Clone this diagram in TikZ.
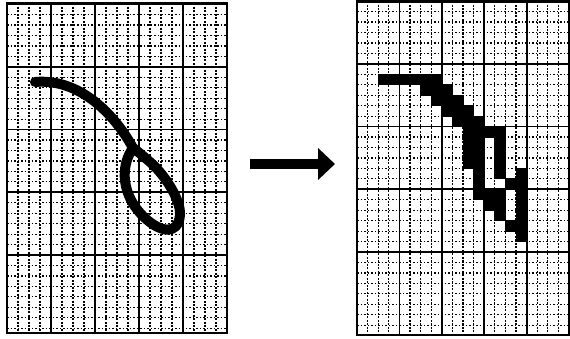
\documentclass[tikz,border=0pt]{standalone}
\usetikzlibrary{arrows.meta}
\begin{document}
\begin{tikzpicture}[x=1pt,y=-1pt,
  minorline/.style={line width=1.2pt, dash pattern=on 1.8pt off 1.7pt},
  majorline/.style={line width=1.8pt},
  frameline/.style={line width=2.4pt},
  inkstroke/.style={line width=10pt, line cap=round, line join=round},
  arrowshaft/.style={line width=10pt, -{Triangle[length=17pt,width=31pt]}}]
\useasboundingbox (0,0) rectangle (570,339);

% ---------- left sheet: 20 columns of 11, rows of 10.45 ----------
\foreach \i in {1,...,19} {
  \pgfmathsetmacro\xx{7+11*\i}
  \pgfmathtruncatemacro\m{mod(\i,4)}
  \ifnum\m=0 \draw[majorline] (\xx,3.5) -- (\xx,333);
  \else \draw[minorline] (\xx,3.5) -- (\xx,333); \fi
}
\foreach \k in {1,...,31} {
  \pgfmathsetmacro\yy{4.2+10.45*\k}
  \pgfmathtruncatemacro\m{mod(\k,6)}
  \pgfmathtruncatemacro\big{(\m==0)&&(\k<30)}
  \ifnum\big=1 \draw[majorline] (7,\yy) -- (227,\yy);
  \else \draw[minorline] (7,\yy) -- (227,\yy); \fi
}
\draw[frameline] (7,3.5) rectangle (227,333);

% handwritten stroke: entry tail and loop
\draw[inkstroke] (35,82) .. controls (80,78) and (115,115) .. (133,148);
\draw[inkstroke] (133,148) .. controls (120,166) and (121,196) .. (145,218)
  .. controls (160,232) and (178,236) .. (180,215)
  .. controls (181,200) and (165,175) .. (150,162)
  .. controls (142,155) and (136,150) .. (133,148) -- cycle;

% ---------- arrow ----------
\coordinate (arrowtail) at (250,164);
\coordinate (arrowtip) at (335,164);
\draw[arrowshaft] (arrowtail) -- (arrowtip);

% ---------- right sheet: 20 columns of 10.6, rows of 10.45 ----------
\foreach \i in {1,...,19} {
  \pgfmathsetmacro\xx{357+10.6*\i}
  \pgfmathtruncatemacro\m{mod(\i,4)}
  \ifnum\m=0 \draw[majorline] (\xx,1.5) -- (\xx,335);
  \else \draw[minorline] (\xx,1.5) -- (\xx,335); \fi
}
\foreach \k in {1,...,31} {
  \pgfmathsetmacro\yy{1.2+10.45*\k}
  \pgfmathtruncatemacro\m{mod(\k,6)}
  \pgfmathtruncatemacro\big{(\m==0)&&(\k<30)}
  \ifnum\big=1 \draw[majorline] (357,\yy) -- (569,\yy);
  \else \draw[minorline] (357,\yy) -- (569,\yy); \fi
}
\draw[frameline] (357,1.5) rectangle (569,335);

% digitised stroke: filled cells (row / columns)
\foreach \r/\cs in {7/{2,3,4,5,6,7}, 8/{6,7,8}, 9/{7,8,9}, 10/{8,9,10},
    11/{9,10,11}, 12/{10,11,12,13}, 13/{10,11,13}, 14/{10,11,13},
    15/{10,11,13}, 16/{11,13,15}, 17/{11,14,15}, 18/{11,12,13,15},
    19/{12,13,15}, 20/{13,15}, 21/{14,15}, 22/{15}} {
  \foreach \c in \cs {
    \fill (356.5+10.6*\c, 0.7+10.45*\r) rectangle ++(11.6,11.45);
  }
}
\end{tikzpicture}
\end{document}
